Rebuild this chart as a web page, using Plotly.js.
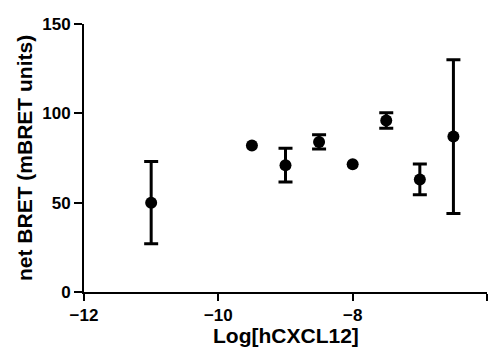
<!DOCTYPE html>
<html><head><meta charset="utf-8">
<script src="https://cdn.plot.ly/plotly-3.0.1.min.js"></script>
<style>html,body{margin:0;padding:0;background:#fff}</style>
</head><body><div id="chart" style="width:496px;height:353px"></div>
<script>
const logConc = [-11, -9.5, -9, -8.5, -8, -7.5, -7, -6.5];
const netBRET = [50, 82, 71, 84, 71.5, 96, 63, 87];
const errBRET = [23, NaN, 9.5, 4, NaN, 4.3, 8.6, 43];
const xTicks = [-12, -10, -8, -6];
const yTicks = [0, 50, 100, 150];
const xTitle = 'Log[hCXCL12]';
const yTitle = 'net BRET (mBRET units)';

const FAM = 'Liberation Sans, Arial, sans-serif';
const titleFont = {family: FAM, size: 21, color: '#000', weight: 700};

Plotly.newPlot('chart', [{
  x: logConc, y: netBRET, type: 'scatter', mode: 'markers',
  marker: {color: '#000', size: 12},
  error_y: {type: 'data', array: errBRET, visible: true, color: '#000', thickness: 3, width: 7}
}], {
  width: 496, height: 353,
  margin: {l: 84, r: 9, t: 24, b: 61},
  showlegend: false,
  annotations: [
    {x: 0.5, xref: 'paper', y: 0, yref: 'paper', xanchor: 'center', yanchor: 'middle', yshift: -43,
     text: '<b>' + xTitle + '</b>', showarrow: false, font: titleFont},
    {x: 0, xref: 'paper', y: 0.5, yref: 'paper', xanchor: 'center', yanchor: 'middle', xshift: -60,
     textangle: -90, text: '<b>' + yTitle + '</b>', showarrow: false, font: titleFont}
  ],
  xaxis: {
    range: [-12, -6], tickmode: 'array', tickvals: xTicks,
    ticks: 'outside', ticklen: 7, tickwidth: 2, tickcolor: '#000',
    tickfont: {family: FAM, size: 17, color: '#000', weight: 700},
    showgrid: false, zeroline: false, showline: true, linecolor: '#000', linewidth: 2
  },
  yaxis: {
    range: [0, 150], tickmode: 'array', tickvals: yTicks,
    ticks: 'outside', ticklen: 8, tickwidth: 2, tickcolor: '#000',
    tickfont: {family: FAM, size: 17, color: '#000', weight: 700},
    showgrid: false, zeroline: false, showline: true, linecolor: '#000', linewidth: 2
  }
}, {displayModeBar: false});
</script></body></html>
